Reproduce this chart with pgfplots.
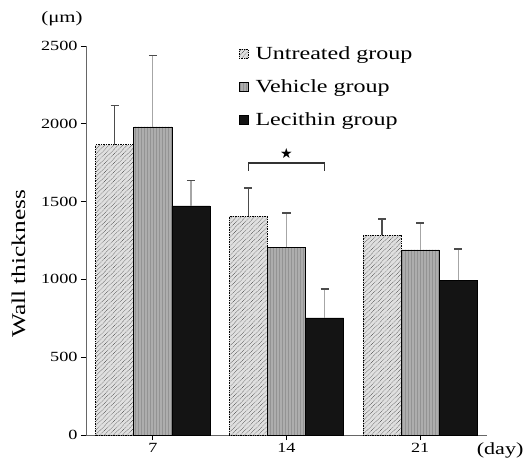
\documentclass[border=0pt]{standalone}
\usepackage{pgfplots}
\pgfplotsset{compat=1.18}
\usepackage{fontspec}
\setmainfont[FakeStretch=1.3]{Liberation Serif}
\newfontfamily\symfont{DejaVu Sans}
\usetikzlibrary{patterns,patterns.meta,calc}
\definecolor{untr}{gray}{0.88}
\definecolor{vehi}{gray}{0.68}
\definecolor{leci}{gray}{0.08}
\begin{document}
\begin{tikzpicture}
\begin{axis}[
  scale only axis,
  width=401pt, height=389pt,
  xmin=0.5, xmax=3.5, ymin=0, ymax=2500,
  axis lines=left,
  axis line style={-, line width=0.8pt, gray!80!black},
  xtick={1,2,3}, xticklabels={7,14,21},
  ytick={0,500,1000,1500,2000,2500},
  tick style={line width=0.8pt, black},
  xtick align=outside, ytick align=outside,
  major tick length=5pt,
  /pgf/number format/assume math mode=true,
  /pgf/number format/1000 sep={},
  tick label style={font=\fontsize{14}{16}\selectfont},
  ylabel={Wall thickness},
  ylabel style={at={(axis description cs:-0.168,0.44)}, anchor=center, font=\fontsize{19.5}{21}\selectfont},
  bar width=0.285,
  legend style={draw=none, fill=none, at={(axis cs:1.62,2522)}, anchor=north west,
    font=\fontsize{18.5}{21}\selectfont, row sep=14.5pt, cells={anchor=west}},
  legend image code/.code={\draw[#1, line width=0.6pt] (0pt,-4.5pt) rectangle (9pt,4.5pt);},
  clip=false,
]
\addplot[ybar, bar shift=0, fill=untr, draw=black, line width=0.7pt, densely dotted,
  postaction={pattern={Lines[angle=45, distance=3.2pt, line width=0.5pt]}, pattern color=gray!50!black},
  error bars/.cd, y dir=plus, y explicit,
  error bar style={solid, line width=1.2pt, gray!60!black},
  error mark options={solid, rotate=90, mark size=4pt, line width=1.2pt, gray!60!black}]
  coordinates {(0.715,1865) +- (0,255) (1.715,1407) +- (0,181) (2.715,1285) +- (0,103)};
\addlegendentry{\hspace{5pt}Untreated group}
\addplot[ybar, bar shift=0, fill=vehi, draw=black, line width=0.7pt,
  postaction={pattern={Lines[angle=90, distance=3pt, line width=0.4pt]}, pattern color=gray!85},
  error bars/.cd, y dir=plus, y explicit,
  error bar style={solid, line width=1.2pt, gray!70},
  error mark options={rotate=90, mark size=4pt, line width=1.2pt, gray!60!black}]
  coordinates {(1,1980) +- (0,460) (2,1208) +- (0,219) (3,1189) +- (0,173)};
\addlegendentry{\hspace{5pt}Vehicle group}
\addplot[ybar, bar shift=0, fill=leci, draw=black, line width=0.7pt,
  error bars/.cd, y dir=plus, y explicit,
  error bar style={solid, line width=1.2pt, gray!70},
  error mark options={rotate=90, mark size=4pt, line width=1.2pt, gray!60!black}]
  coordinates {(1.285,1472) +- (0,163) (2.285,752) +- (0,186) (3.285,996) +- (0,199)};
\addlegendentry{\hspace{5pt}Lecithin group}
\draw[line width=1.2pt, gray!40!black] (axis cs:1.715,1697) -- (axis cs:1.715,1748) -- (axis cs:2.285,1748) -- (axis cs:2.285,1697);
\node[font=\symfont\fontsize{14}{15}\selectfont] at (axis cs:2,1812) {★};
\node[anchor=south, font=\fontsize{16}{18}\selectfont] at ($(rel axis cs:0,1)+(-24pt,17pt)$) {(μm)};
\node[anchor=north east, font=\fontsize{17}{19}\selectfont] at ($(rel axis cs:1,0)+(40pt,-4pt)$) {(day)};
\end{axis}
\pgfresetboundingbox
\path ($(current axis.south west)+(-86pt,-23pt)$) rectangle ($(current axis.north east)+(40pt,46pt)$);
\end{tikzpicture}
\end{document}
